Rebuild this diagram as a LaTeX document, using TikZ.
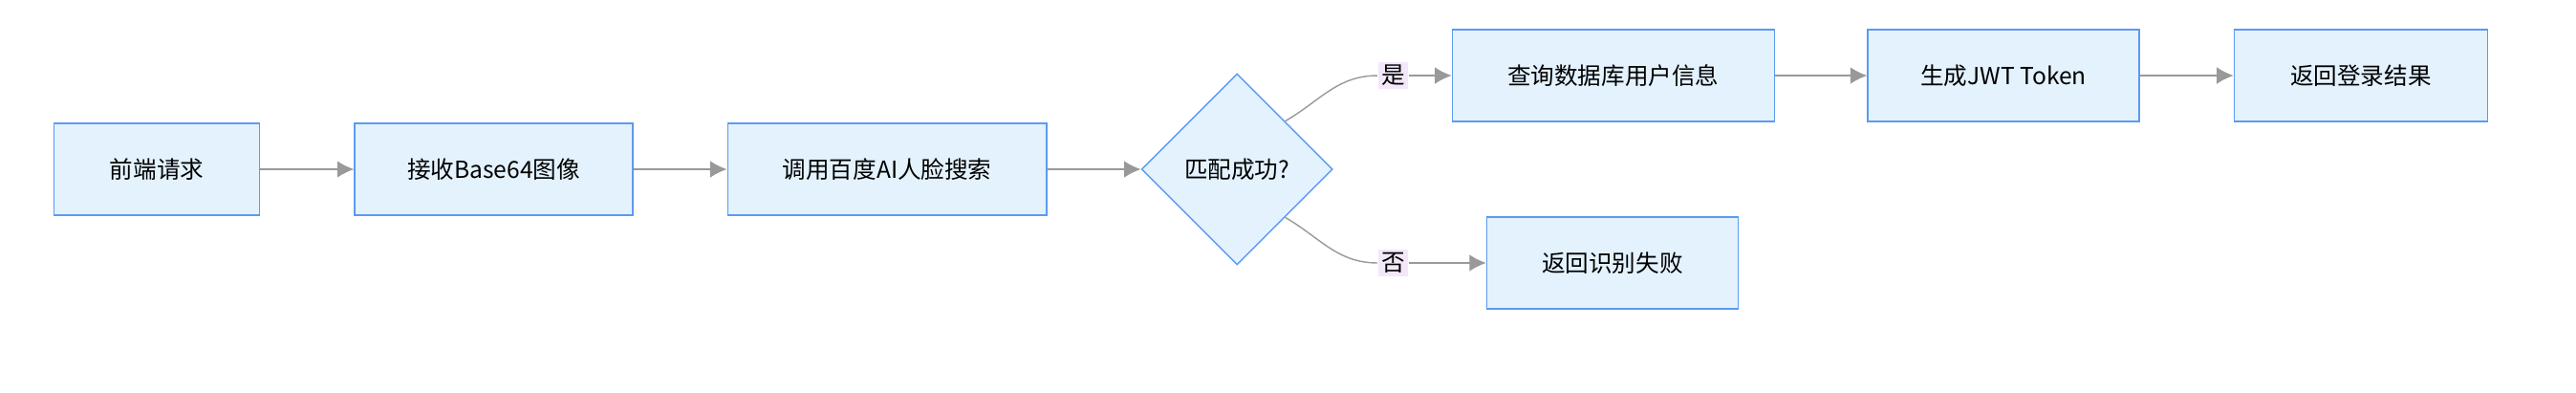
\documentclass[tikz,border=0pt]{standalone}
\usepackage{fontspec}
\setmainfont{Noto Sans CJK SC}
\usetikzlibrary{shapes.geometric,arrows.meta}
\definecolor{boxfill}{HTML}{E3F2FD}
\definecolor{boxline}{HTML}{5B9BF0}
\definecolor{edgegray}{HTML}{999999}
\definecolor{labfill}{HTML}{F3E8FA}
\tikzstyle{box}=[fill=boxfill, draw=boxline, shape=rectangle, minimum height=0.96cm, inner sep=0pt, font=\fontsize{7}{8}\selectfont]
\tikzstyle{dia}=[fill=boxfill, draw=boxline, shape=diamond, minimum width=2cm, minimum height=2cm, inner sep=0pt, font=\fontsize{7}{8}\selectfont]
\tikzstyle{lab}=[fill=labfill, inner sep=1pt, font=\fontsize{7}{8}\selectfont]
\tikzstyle{edge}=[draw=edgegray, -{Latex[length=5pt,width=5pt]}]

\begin{document}
\begin{tikzpicture}[x=0.0172cm, y=-0.0172cm]
		\useasboundingbox (0,0) rectangle (1568,239);

		\node [style=box, minimum width=2.15cm] (req) at (95.5, 103) {前端请求};
		\node [style=box, minimum width=2.91cm] (recv) at (300.5, 103) {接收Base64图像};
		\node [style=box, minimum width=3.34cm] (baidu) at (540, 103) {调用百度AI人脸搜索};
		\node [style=dia] (match) at (753, 103) {匹配成功?};

		\node [style=box, minimum width=3.37cm] (query) at (982, 46) {查询数据库用户信息};
		\node [style=box, minimum width=2.84cm] (jwt) at (1219.5, 46) {生成JWT Token};
		\node [style=box, minimum width=2.65cm] (ok) at (1437, 46) {返回登录结果};
		\node [style=box, minimum width=2.63cm] (fail) at (981.5, 160) {返回识别失败};

		\node [style=lab] (yes) at (848, 46) {是};
		\node [style=lab] (no) at (848, 160) {否};

		\draw [style=edge] (req) to (recv);
		\draw [style=edge] (recv) to (baidu);
		\draw [style=edge] (baidu) to (match);
		\draw [draw=edgegray] (match.north east) to [out=30, in=180] (yes.west);
		\draw [style=edge] (yes.east) to (query.west);
		\draw [draw=edgegray] (match.south east) to [out=-30, in=180] (no.west);
		\draw [style=edge] (no.east) to [out=0, in=180] (fail.west);
		\draw [style=edge] (query) to (jwt);
		\draw [style=edge] (jwt) to (ok);
	\end{tikzpicture}
\end{document}
